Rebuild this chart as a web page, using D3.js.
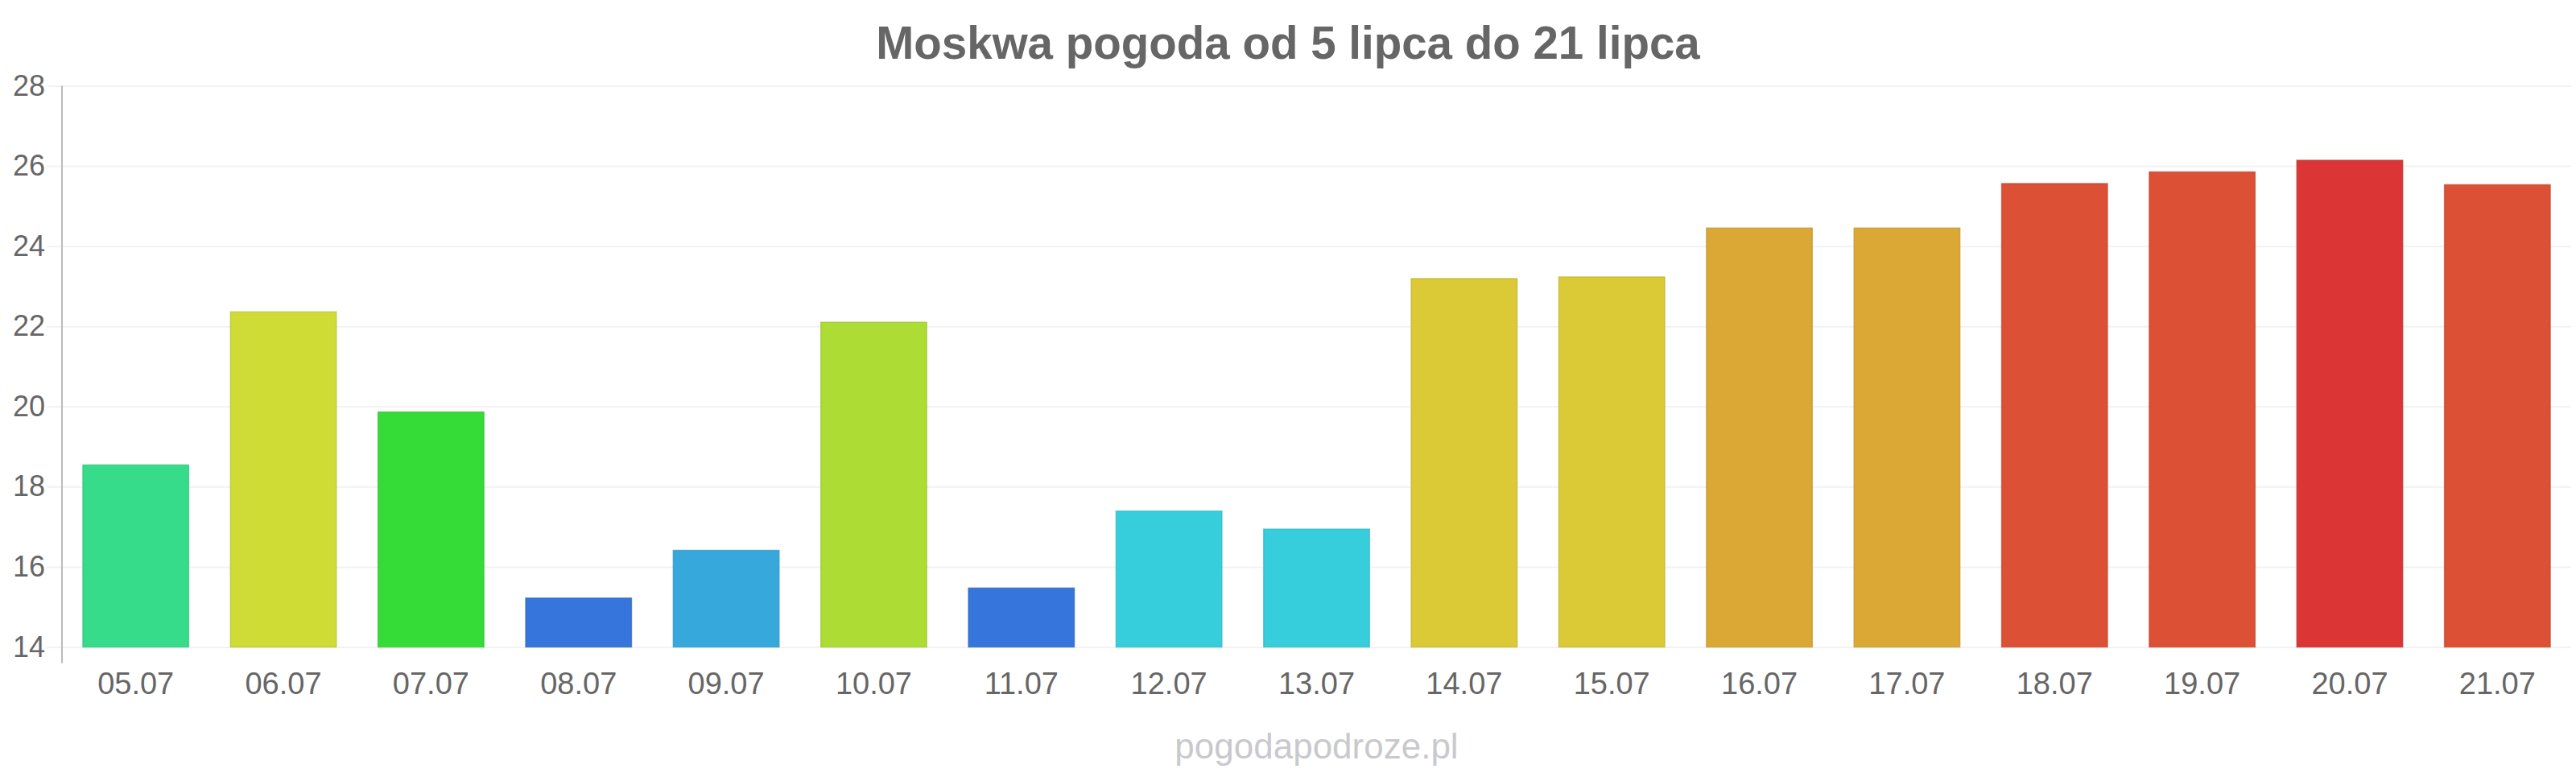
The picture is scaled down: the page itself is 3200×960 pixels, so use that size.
<!DOCTYPE html>
<html>
<head>
<meta charset="utf-8">
<script src="https://cdn.jsdelivr.net/npm/d3@7"></script>
<style>
    body { margin: 0; background: #ffffff; }
    text { font-family: "Liberation Sans", Arial, sans-serif; }
</style>
</head>
<body>
<div id="chart"></div>
<script>
// data
var days = ["05.07", "06.07", "07.07", "08.07", "09.07", "10.07", "11.07", "12.07", "13.07",
    "14.07", "15.07", "16.07", "17.07", "18.07", "19.07", "20.07", "21.07"];
var temps = [18.54, 22.36, 19.86, 15.22, 16.41, 22.1, 15.47, 17.39, 16.94,
    23.19, 23.23, 24.45, 24.45, 25.56, 25.85, 26.14, 25.53];
var barColors = ["#37dc8b", "#cfdc35", "#35dc38", "#3575dc", "#36a8dc", "#addd35", "#3575dc", "#36cedc", "#36cedc",
    "#dbca35", "#dbca35", "#dba835", "#dba835", "#dc5035", "#dc5035", "#db3535", "#dc5035"];
var yTicks = [14, 16, 18, 20, 22, 24, 26, 28];

var titleText = "Moskwa pogoda od 5 lipca do 21 lipca";
var credit = "pogodapodroze.pl";

var W = 3200, H = 960;
var margin = { top: 106.5, right: 6, bottom: 156.5, left: 77 };
var width = W - margin.left - margin.right;
var height = H - margin.top - margin.bottom;

var svg = d3.select("#chart").append("svg")
    .attr("width", W)
    .attr("height", H);

// title
svg.append("text")
    .attr("x", W / 2)
    .attr("y", 73)
    .attr("text-anchor", "middle")
    .style("font-size", "56.5px")
    .style("font-weight", "bold")
    .attr("fill", "#666666")
    .text(titleText);

var g = svg.append("g")
    .attr("transform", "translate(" + margin.left + "," + margin.top + ")");

//scales
var x = d3.scaleBand()
    .domain(days)
    .range([0, width])
    .paddingInner(0.283)
    .paddingOuter(0.1415);

var y = d3.scaleLinear()
    .domain([14, 28])
    .range([height, 0]);

// grid lines
g.append("g")
    .attr("class", "grid")
    .call(d3.axisLeft(y).tickValues(yTicks).tickSize(-width - 19).tickFormat(""))
    .attr("transform", "translate(-19,0)")
    .call(function (s) {
        s.select(".domain").remove();
        s.selectAll("line").attr("stroke", "#f2f2f2").attr("stroke-width", 2);
    });

// y labels
var yAxis = g.append("g")
    .attr("class", "y-axis")
    .call(d3.axisLeft(y).tickValues(yTicks).tickSize(0).tickPadding(21))
yAxis.select(".domain").remove();
yAxis.selectAll("text")
    .style("font-size", "36px")
    .attr("fill", "#666666");

// vertical axis line
g.append("line")
    .attr("x1", 0)
    .attr("x2", 0)
    .attr("y1", 0)
    .attr("y2", height + 20)
    .attr("stroke", "#bbbbbb")
    .attr("stroke-width", 2);

// bars
g.selectAll("rect.bar")
    .data(temps)
    .enter()
    .append("rect")
    .attr("class", "bar")
    .attr("x", function (d, i) { return x(days[i]); })
    .attr("y", function (d) { return y(d); })
    .attr("width", x.bandwidth())
    .attr("height", function (d) { return height - y(d); })
    .attr("fill", function (d, i) { return barColors[i]; })
    .attr("stroke", function (d, i) { return d3.color(barColors[i]).darker(0.35); })
    .attr("stroke-width", 1.5)
    .attr("stroke-opacity", 0.7);

// x labels
var xAxis = g.append("g")
    .attr("class", "x-axis")
    .attr("transform", "translate(0," + height + ")")
    .call(d3.axisBottom(x).tickSize(0).tickPadding(0));
xAxis.select(".domain").remove();
xAxis.selectAll("text")
    .attr("dy", null)
    .attr("y", 58)
    .style("font-size", "38px")
    .attr("fill", "#666666");

// site credit
g.append("text")
    .attr("x", width / 2)
    .attr("y", 942 - margin.top)
    .attr("text-anchor", "middle")
    .style("font-size", "44px")
    .attr("fill", "#c9c9cd")
    .text(credit);
</script>
</body>
</html>
